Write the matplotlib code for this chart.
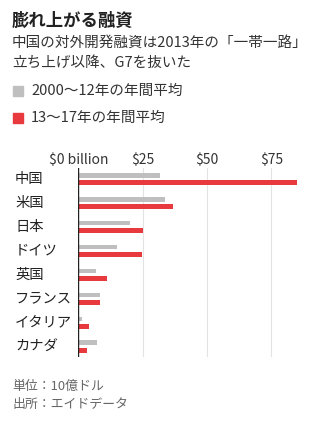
import matplotlib
import numpy as np
from matplotlib import pyplot as plt
from matplotlib.patches import Rectangle
from matplotlib.transforms import blended_transform_factory

matplotlib.use('Agg')
plt.rcParams['font.family'] = ['Noto Sans CJK JP', 'DejaVu Sans']

# data, in $ billion per year
countries = ['中国', '米国', '日本', 'ドイツ', '英国', 'フランス', 'イタリア', 'カナダ']
avg_2000_12 = [31.9, 33.8, 20.1, 15.2, 7.0, 8.4, 1.4, 7.4]
avg_13_17 = [85.1, 36.9, 25.3, 24.9, 11.3, 8.4, 4.3, 3.5]
tick_vals = [0, 25, 50, 75]
tick_labels = ['$0 billion', '$25', '$50', '$75']

gray = '#bfbfbf'
red = '#e8393f'
dark = '#222222'

W, H = 327, 421
fig = plt.figure(figsize=(W / 100, H / 100), dpi=100)

# axes placed in pixel coords
x0, x1 = 78.3, 78.3 + 90 * 2.573
y_top, y_bot = 168, 357
ax = fig.add_axes([x0 / W, 1 - y_bot / H, (x1 - x0) / W, (y_bot - y_top) / H])

y = np.arange(len(countries))
ax.barh(y - 0.15, avg_2000_12, height=0.2, color=gray, zorder=3)
ax.barh(y + 0.15, avg_13_17, height=0.21, color=red, zorder=3)

ax.set_xlim(0, 90)
ax.set_ylim(len(countries) - 0.56, -0.45)
for spine in ax.spines.values():
    spine.set_visible(False)
ax.axvline(0, color=dark, lw=1.0, zorder=4)
for v in tick_vals[1:]:
    ax.axvline(v, color='#e3e3e3', lw=0.8, zorder=1)

ax.xaxis.tick_top()
ax.set_xticks(tick_vals)
ax.set_xticklabels(tick_labels, fontsize=10, color='#333333')
ax.tick_params(axis='x', length=0, pad=1)
ax.set_yticks([])

# category labels at left edge of the figure
label_tr = blended_transform_factory(fig.transFigure, ax.transData)
for i, name in enumerate(countries):
    ax.text(15 / W, i, name, transform=label_tr,
            ha='left', va='center', fontsize=10.3, color=dark)

# header text
fig.text(12 / W, 1 - 21 / H, '膨れ上がる融資', fontsize=12.5, fontweight='bold',
         color=dark, va='center', ha='left')
fig.text(12 / W, 1 - 43 / H, '中国の対外開発融資は2013年の「一帯一路」',
         fontsize=10.5, color='#333333', va='center', ha='left')
fig.text(12 / W, 1 - 63 / H, '立ち上げ以降、G7を抜いた',
         fontsize=10.5, color='#333333', va='center', ha='left')

# legend
for ypix, col, label in [(91, gray, '2000～12年の年間平均'), (118, red, '13～17年の年間平均')]:
    fig.patches.append(Rectangle((13 / W, 1 - (ypix + 5) / H), 10 / W, 10 / H,
                                 transform=fig.transFigure, color=col))
    fig.text(31 / W, 1 - ypix / H, label, fontsize=10.5, color='#333333',
             va='center', ha='left')

# footer
fig.text(12 / W, 1 - 386 / H, '単位：10億ドル', fontsize=9.3, color='#666666',
         va='center', ha='left')
fig.text(12 / W, 1 - 404 / H, '出所：エイドデータ', fontsize=9.3, color='#666666',
         va='center', ha='left')

fig.savefig('out.png', dpi=100)
